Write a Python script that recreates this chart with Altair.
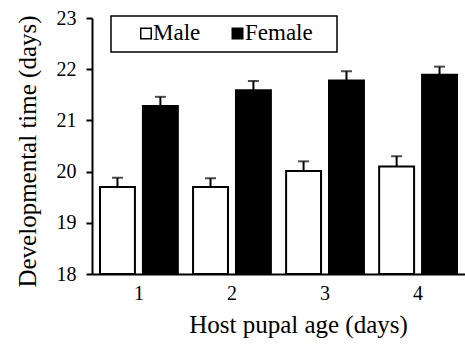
import altair as alt
import pandas as pd

ages = ["1", "2", "3", "4"]
sexes = ["Male", "Female"]
male_mean = [19.70, 19.70, 20.01, 20.10]
female_mean = [21.28, 21.59, 21.78, 21.89]
male_se = [0.18, 0.17, 0.19, 0.20]
female_se = [0.18, 0.18, 0.18, 0.16]
fills = ["white", "black"]

rows = []
for i, a in enumerate(ages):
    rows.append(dict(age=a, sex="Male", mean=male_mean[i], upper=male_mean[i] + male_se[i]))
    rows.append(dict(age=a, sex="Female", mean=female_mean[i], upper=female_mean[i] + female_se[i]))
df = pd.DataFrame(rows)

FONT = "Liberation Serif"

x = alt.X(
    "age:N", sort=ages,
    scale=alt.Scale(paddingInner=0.1635, paddingOuter=0.086),
    axis=alt.Axis(title="Host pupal age (days)", labelAngle=0, ticks=False,
                  labelFontSize=20, labelPadding=9, titleFontSize=25,
                  titleX=206, titleY=58, titleAlign="center", titleBaseline="alphabetic",
                  domainWidth=2),
)
xo = alt.XOffset("sex:N", sort=sexes, scale=alt.Scale(paddingInner=0.186, paddingOuter=0))
y = alt.Y(
    "mean:Q",
    scale=alt.Scale(domain=[18, 23], zero=False, nice=False),
    axis=alt.Axis(values=[18, 19, 20, 21, 22, 23], tickSize=6, tickWidth=2, domainWidth=2,
                  labelFontSize=20, labelPadding=10, grid=False,
                  title="Developmental time (days)", titleFontSize=25,
                  titleX=-57, titleY=133, titleAngle=270, titleBaseline="alphabetic",
                  titleAlign="center"),
)

base = alt.Chart(df)

bars = base.mark_bar(stroke="black", strokeWidth=2).encode(
    x=x, xOffset=xo, y=y, y2=alt.datum(18),
    fill=alt.Fill("sex:N", scale=alt.Scale(domain=sexes, range=fills), legend=None),
)

err = base.mark_rule(color="black", strokeWidth=2).encode(
    x=x, xOffset=xo, y="mean:Q", y2="upper:Q",
)
cap = base.mark_tick(color="black", thickness=2, size=11, orient="horizontal").encode(
    x=x, xOffset=xo, y="upper:Q",
)

# Legend (drawn as a framed key)
frame = alt.Chart(pd.DataFrame({"k": [0]})).mark_rect(
    filled=False, stroke="black", strokeWidth=1.5
).encode(x=alt.value(19), x2=alt.value(245), y=alt.value(-2), y2=alt.value(34))

key_layers = []
key_pos = [(54, 61), (145.5, 153)]
for s, f, (sx, tx) in zip(sexes, fills, key_pos):
    kd = pd.DataFrame({"sex": [s]})
    key_layers.append(
        alt.Chart(kd).mark_point(shape="square", filled=True, fill=f, stroke="black",
                                 strokeWidth=1.5, size=110, opacity=1)
        .encode(x=alt.value(sx), y=alt.value(15.5))
    )
    key_layers.append(
        alt.Chart(kd).mark_text(font=FONT, fontSize=23, align="left", baseline="alphabetic",
                                color="black")
        .encode(x=alt.value(tx), y=alt.value(21.5), text="sex:N")
    )

chart = alt.layer(bars, err, cap, frame, *key_layers).properties(
    width=373, height=256,
    autosize=alt.AutoSizeParams(type="none"),
    padding={"left": 92, "top": 18, "right": 0, "bottom": 70},
).configure(font=FONT).configure_view(stroke=None).configure_axis(
    labelFont=FONT, titleFont=FONT, labelColor="black", titleColor="black",
    domainColor="black", tickColor="black", titleFontWeight="normal",
)

chart.save("out.html", embed_options={"renderer": "svg", "actions": False})
